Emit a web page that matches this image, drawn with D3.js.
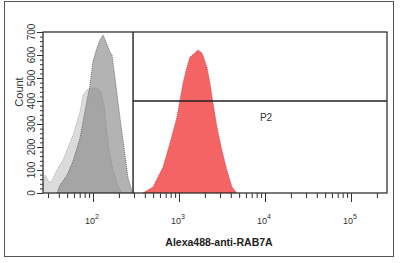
<!DOCTYPE html>
<html>
<head>
<meta charset="utf-8">
<script src="https://cdn.jsdelivr.net/npm/d3@7"></script>
<style>
  body { margin: 0; background: #fff; }
  svg { font-family: Arial, "Liberation Sans", sans-serif; }
</style>
</head>
<body>
<svg width="400" height="263"></svg>
<script>
// wide control histogram (left shoulder)
var wideX = [26.2, 27.7, 30, 31.6, 34.3, 38.1, 44.8, 49.9, 58.5, 65.1, 70.6, 76.5, 85.2, 97.4, 111, 123.9, 134.3, 141.6, 153.5, 170.8, 195.4, 217.5];
var wideCount = [30, 78, 57, 43, 65, 100, 143, 187, 252, 309, 352, 426, 448, 457, 457, 439, 383, 296, 187, 100, 30, 0];
// tall control histogram
var tallX = [38.1, 41.4, 49.9, 58.5, 70.6, 80.7, 92.3, 100, 111, 120.6, 130.7, 141.6, 157.6, 166.2, 180.2, 206, 235.5, 255.4, 284, 299];
var tallCount = [0, 35, 78, 139, 239, 357, 470, 574, 630, 665, 687, 657, 613, 600, 500, 326, 165, 65, 9, 0];
// RAB7A stained histogram
var redX = [381, 498, 652, 786, 946, 1026, 1114, 1238, 1341, 1530, 1664, 1852, 2113, 2290, 2486, 2760, 3150, 3600, 4130, 4700];
var redCount = [0, 26, 113, 217, 330, 404, 478, 548, 591, 609, 622, 609, 548, 478, 391, 287, 187, 100, 26, 0];

var xDomain = [26.2, 262144];
var yDomain = [0, 700];
var yTicks = [0, 100, 200, 300, 400, 500, 600, 700];
var xMajor = [100, 1000, 10000, 100000];
var xMajorExp = ["2", "3", "4", "5"];
var gateX = 292;     // vertical gate boundary
var gateY = 400;     // P2 horizontal line (count)

function draw() {
  var svg = d3.select("svg");
  var left = 43, right = 387, plotTop = 32, bottom = 193;

  svg.append("rect").attr("x", 4.5).attr("y", 1.5).attr("width", 389).attr("height", 255)
    .attr("fill", "none").attr("stroke", "#555").attr("stroke-width", 1);

  var xs = d3.scaleLog().domain(xDomain).range([left, right]);
  var ys = d3.scaleLinear().domain(yDomain).range([bottom, plotTop]);

  function pts(xv, cv) { return xv.map(function(d, i) { return [d, cv[i]]; }); }
  var area = d3.area().x(function(d) { return xs(d[0]); }).y0(ys(0)).y1(function(d) { return ys(d[1]); });
  var line = d3.line().x(function(d) { return xs(d[0]); }).y(function(d) { return ys(d[1]); });

  var plot = svg.append("g");
  plot.append("path").datum(pts(wideX, wideCount)).attr("d", area).attr("fill", "#999").attr("fill-opacity", 0.35);
  plot.append("path").datum(pts(wideX, wideCount)).attr("d", line).attr("fill", "none")
    .attr("stroke", "#999").attr("stroke-width", 0.8).attr("stroke-dasharray", "1,1");
  plot.append("path").datum(pts(tallX, tallCount)).attr("d", area).attr("fill", "#808080").attr("fill-opacity", 0.6);
  plot.append("path").datum(pts(tallX, tallCount)).attr("d", line).attr("fill", "none")
    .attr("stroke", "#555").attr("stroke-width", 0.8).attr("stroke-dasharray", "1,1");
  plot.append("path").datum(pts(redX, redCount)).attr("d", area).attr("fill", "#f46464");
  plot.append("path").datum(pts(redX, redCount)).attr("d", line).attr("fill", "none")
    .attr("stroke", "#c83c3c").attr("stroke-width", 0.8).attr("stroke-dasharray", "1,1");

  // frame
  svg.append("rect").attr("x", left).attr("y", plotTop).attr("width", right - left).attr("height", bottom - plotTop)
    .attr("fill", "none").attr("stroke", "#222").attr("stroke-width", 1.2);

  // gates
  svg.append("line").attr("x1", xs(gateX)).attr("x2", xs(gateX)).attr("y1", plotTop).attr("y2", bottom)
    .attr("stroke", "#222").attr("stroke-width", 1.4);
  svg.append("line").attr("x1", xs(gateX)).attr("x2", right).attr("y1", ys(gateY)).attr("y2", ys(gateY))
    .attr("stroke", "#222").attr("stroke-width", 1.4);
  svg.append("text").attr("x", 266).attr("y", 121).attr("text-anchor", "middle")
    .attr("font-size", 10).attr("fill", "#333").text("P2");

  // x axis
  var minor = [];
  [10, 100, 1000, 10000, 100000].forEach(function(b) {
    for (var k = 2; k <= 9; k++) { var v = b * k; if (v >= xDomain[0] && v <= xDomain[1]) minor.push(v); }
  });
  var gx = svg.append("g").attr("transform", "translate(0," + bottom + ")");
  gx.call(d3.axisBottom(xs).tickValues(minor).tickSize(5).tickFormat(""));
  gx.select(".domain").remove();
  var gx2 = svg.append("g").attr("transform", "translate(0," + bottom + ")");
  gx2.call(d3.axisBottom(xs).tickValues(xMajor).tickSize(9).tickFormat(""));
  gx2.select(".domain").remove();
  xMajor.forEach(function(v, i) {
    var t = svg.append("text").attr("x", xs(v) - 1).attr("y", 224).attr("text-anchor", "middle")
      .attr("font-size", 9).attr("fill", "#333");
    t.append("tspan").text("10");
    t.append("tspan").attr("dy", -5).attr("font-size", 7).text(xMajorExp[i]);
  });
  svg.append("text").attr("x", 219).attr("y", 246).attr("text-anchor", "middle")
    .attr("font-size", 10.5).attr("font-weight", "bold").attr("fill", "#222").text("Alexa488-anti-RAB7A");

  // y axis
  var yMinor = d3.range(0, 701, 20);
  var gy = svg.append("g").attr("transform", "translate(" + left + ",0)");
  gy.call(d3.axisLeft(ys).tickValues(yMinor).tickSize(3).tickFormat(""));
  gy.select(".domain").remove();
  var gy2 = svg.append("g").attr("transform", "translate(" + left + ",0)");
  gy2.call(d3.axisLeft(ys).tickValues(yTicks).tickSize(6).tickFormat(""));
  gy2.select(".domain").remove();
  svg.selectAll(".tick line").attr("stroke", "#333");
  yTicks.forEach(function(v) {
    svg.append("text").attr("transform", "translate(35," + ys(v) + ") rotate(-90)")
      .attr("text-anchor", "middle").attr("font-size", 10).attr("fill", "#333").text(v);
  });
  svg.append("text").attr("transform", "translate(23,92) rotate(-90)").attr("text-anchor", "middle")
    .attr("font-size", 11).attr("fill", "#333").text("Count");
}
draw();
</script>
</body>
</html>
